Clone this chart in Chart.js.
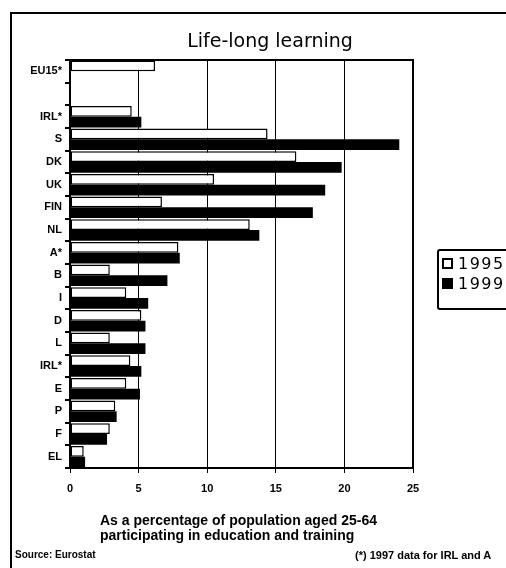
<!DOCTYPE html>
<html>
<head>
<meta charset="utf-8">
<script src="https://cdn.jsdelivr.net/npm/chart.js@4/dist/chart.umd.min.js"></script>
<style>
  html, body { margin: 0; padding: 0; background: #fff; }
  #wrap { position: relative; width: 506px; height: 568px; overflow: hidden; background: #fff; }
  #frame { position: absolute; left: 10px; top: 12px; width: 520px; height: 580px; border-left: 2px solid #000; border-top: 2px solid #000; }
  canvas { position: absolute; left: 0; top: 0; }
  .txt { position: absolute; color: #000; white-space: nowrap; font-family: "Liberation Sans", Arial, sans-serif; }
  #title { left: 0; width: 540px; top: 29px; text-align: center; font-family: "DejaVu Sans", sans-serif; font-size: 19px; }
  #caption { left: 100px; top: 513px; font-size: 14px; line-height: 15px; font-weight: bold; }
  #source { left: 15px; top: 549px; font-size: 10px; font-weight: bold; }
  #note { left: 355px; top: 549px; font-size: 11px; font-weight: bold; }
  #legend { position: absolute; left: 437px; top: 249px; width: 90px; height: 57px; border: 2px solid #000; border-radius: 3px; }
  .item { position: absolute; left: 3px; height: 17px; font-family: "DejaVu Sans", sans-serif; font-size: 16px; line-height: 17px; letter-spacing: 1.5px; }
  .swatch { position: absolute; left: 0; top: 3px; width: 11px; height: 11px; box-sizing: border-box; border: 2px solid #000; }
  .item span.lbl { position: absolute; left: 16px; top: 0; }
</style>
</head>
<body>
<div id="wrap">
  <div id="frame"></div>
  <canvas id="chart" width="506" height="568"></canvas>
  <div id="title" class="txt">Life-long learning</div>
  <div id="legend"></div>
  <div id="caption" class="txt">As a percentage of population aged 25-64<br>participating in education and training</div>
  <div id="source" class="txt">Source: Eurostat</div>
  <div id="note" class="txt">(*) 1997 data for IRL and A</div>
</div>
<script>
const countries = ['EU15*', '', 'IRL*', 'S', 'DK', 'UK', 'FIN', 'NL', 'A*', 'B', 'I', 'D', 'L', 'IRL*', 'E', 'P', 'F', 'EL'];
const values1995 = [6.2, null, 4.5, 14.4, 16.5, 10.5, 6.7, 13.1, 7.9, 2.9, 4.1, 5.2, 2.9, 4.4, 4.1, 3.3, 2.9, 1.0];
const values1999 = [null, null, 5.2, 24.0, 19.8, 18.6, 17.7, 13.8, 8.0, 7.1, 5.7, 5.5, 5.5, 5.2, 5.1, 3.4, 2.7, 1.1];
const xTicks = [0, 5, 10, 15, 20, 25];
const seriesNames = ['1995', '1999'];

const plotFrame = {
  id: 'plotFrame',
  afterDraw(chart) {
    const {ctx, chartArea: a} = chart;
    ctx.save();
    ctx.strokeStyle = '#000';
    ctx.lineWidth = 2;
    ctx.strokeRect(a.left, a.top, a.right - a.left, a.bottom - a.top);
    ctx.restore();
  }
};

const chart = new Chart(document.getElementById('chart'), {
  type: 'bar',
  data: {
    labels: countries,
    datasets: [{
      label: seriesNames[0],
      data: values1995,
      backgroundColor: '#fff',
      borderColor: '#000',
      borderWidth: 1.5,
      borderSkipped: false,
    }, {
      label: seriesNames[1],
      data: values1999,
      backgroundColor: '#000',
      borderColor: '#000',
      borderWidth: 0,
    }]
  },
  options: {
    indexAxis: 'y',
    responsive: false,
    animation: false,
    categoryPercentage: 0.95,
    barPercentage: 1,
    layout: {padding: {left: 0, right: 93, top: 60, bottom: 72}},
    scales: {
      x: {
        min: 0,
        max: 25,
        afterBuildTicks: (axis) => { axis.ticks = xTicks.map(v => ({value: v})); },
        afterFit: (axis) => { axis.height = 28; },
        grid: {color: '#000', lineWidth: 1, tickLength: 5},
        border: {color: '#000', width: 2},
        ticks: {color: '#000', padding: 9, font: {family: 'Liberation Sans', size: 11, weight: 'bold'}}
      },
      y: {
        afterFit: (axis) => { axis.width = 70; },
        grid: {display: true, drawOnChartArea: false, offset: true, color: '#000', tickLength: 5, lineWidth: 2},
        border: {color: '#000', width: 2},
        ticks: {color: '#000', padding: 3, autoSkip: false, font: {family: 'Liberation Sans', size: 11, weight: 'bold'}}
      }
    },
    plugins: {
      legend: {display: false},
      title: {display: false},
      tooltip: {enabled: false}
    }
  },
  plugins: [plotFrame]
});

// legend built from the datasets
const legendEl = document.getElementById('legend');
chart.data.datasets.forEach((ds, i) => {
  const item = document.createElement('div');
  item.className = 'item';
  item.style.top = (4 + i * 20) + 'px';
  const sw = document.createElement('div');
  sw.className = 'swatch';
  sw.style.background = ds.backgroundColor;
  const lbl = document.createElement('span');
  lbl.className = 'lbl';
  lbl.textContent = ds.label;
  item.appendChild(sw);
  item.appendChild(lbl);
  legendEl.appendChild(item);
});
</script>
</body>
</html>
